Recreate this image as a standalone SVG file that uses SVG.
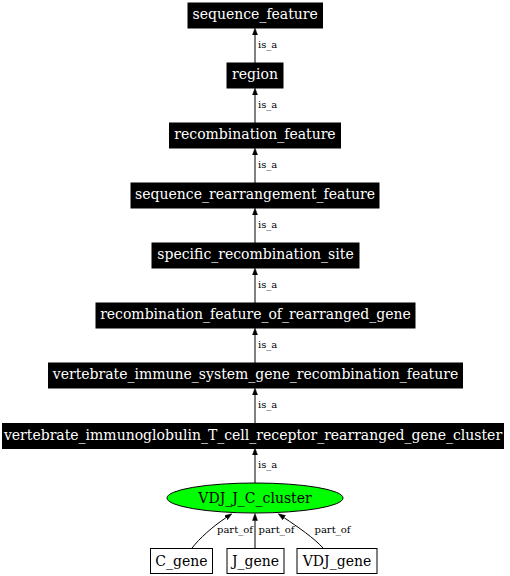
<svg xmlns="http://www.w3.org/2000/svg" width="510" height="576" viewBox="0 0 510 576">
<style>
.bk rect{fill:#000;stroke:#000;stroke-width:1}
.bk text{fill:#fff;font-family:"DejaVu Serif",serif;font-size:14px;text-anchor:middle}
.wt rect{fill:#fff;stroke:#000;stroke-width:1}
.wt text,.el text{fill:#000;font-family:"DejaVu Serif",serif;font-size:14px;text-anchor:middle}
.el ellipse{fill:#00ff00;stroke:#000;stroke-width:1}
#edges path{fill:none;stroke:#000;stroke-width:1;marker-end:url(#ah)}
#edges text{fill:#000;font-family:"DejaVu Serif",serif;font-size:10px}
</style>
<defs>
<marker id="ah" markerUnits="userSpaceOnUse" markerWidth="8" markerHeight="6" refX="0" refY="2.5" orient="auto" viewBox="0 0 8 5">
<path d="M0,0 L7,2.5 L0,5 z" fill="#000" stroke="#000" stroke-width="0.5"/>
</marker>
</defs>
<rect width="510" height="576" fill="#fff"/>
<g id="edges">
<path d="M255,63 L255,35"/><text x="258" y="48">is_a</text>
<path d="M255,123 L255,95"/><text x="258" y="108">is_a</text>
<path d="M255,183 L255,155"/><text x="258" y="168">is_a</text>
<path d="M255,243 L255,215"/><text x="258" y="228">is_a</text>
<path d="M255,303 L255,275"/><text x="258" y="288">is_a</text>
<path d="M255,363 L255,335"/><text x="258" y="348">is_a</text>
<path d="M255,423 L255,395"/><text x="258" y="408">is_a</text>
<path d="M255,483 L255,455"/><text x="258" y="468">is_a</text>
<path d="M192,548 C200,538 212,527 226,517.7"/><text x="217" y="533">part_of</text>
<path d="M255,548 L255,520.5"/><text x="258.5" y="533">part_of</text>
<path d="M323,548 C314,538 298,527 284.1,517.7"/><text x="314.5" y="533">part_of</text>
</g>
<g id="sequence_feature" class="bk"><rect x="188" y="3" width="134.5" height="25"/><text x="255.2" y="19">sequence_feature</text></g>
<g id="region" class="bk"><rect x="227" y="63" width="56" height="25"/><text x="255" y="79">region</text></g>
<g id="recombination_feature" class="bk"><rect x="169.5" y="123" width="171" height="25"/><text x="255" y="139">recombination_feature</text></g>
<g id="sequence_rearrangement_feature" class="bk"><rect x="131" y="183" width="248" height="25"/><text x="255" y="199">sequence_rearrangement_feature</text></g>
<g id="specific_recombination_site" class="bk"><rect x="152" y="243" width="207" height="25"/><text x="255.5" y="259">specific_recombination_site</text></g>
<g id="recombination_feature_of_rearranged_gene" class="bk"><rect x="96" y="303" width="319" height="25"/><text x="255.5" y="319">recombination_feature_of_rearranged_gene</text></g>
<g id="vertebrate_immune_system_gene_recombination_feature" class="bk"><rect x="48.5" y="363" width="414" height="25"/><text x="255.5" y="379">vertebrate_immune_system_gene_recombination_feature</text></g>
<g id="vertebrate_immunoglobulin_T_cell_receptor_rearranged_gene_cluster" class="bk"><rect x="2.5" y="423.5" width="501" height="25"/><text x="253" y="439.5">vertebrate_immunoglobulin_T_cell_receptor_rearranged_gene_cluster</text></g>
<g id="VDJ_J_C_cluster" class="el"><ellipse cx="255" cy="498" rx="88" ry="15"/><text x="255" y="503">VDJ_J_C_cluster</text></g>
<g id="C_gene" class="wt"><rect x="150.5" y="548.5" width="62" height="25"/><text x="181.5" y="565.5">C_gene</text></g>
<g id="J_gene" class="wt"><rect x="227" y="548.5" width="57" height="25"/><text x="255.5" y="565.5">J_gene</text></g>
<g id="VDJ_gene" class="wt"><rect x="297" y="548.5" width="80" height="25"/><text x="337" y="565.5">VDJ_gene</text></g>
</svg>
